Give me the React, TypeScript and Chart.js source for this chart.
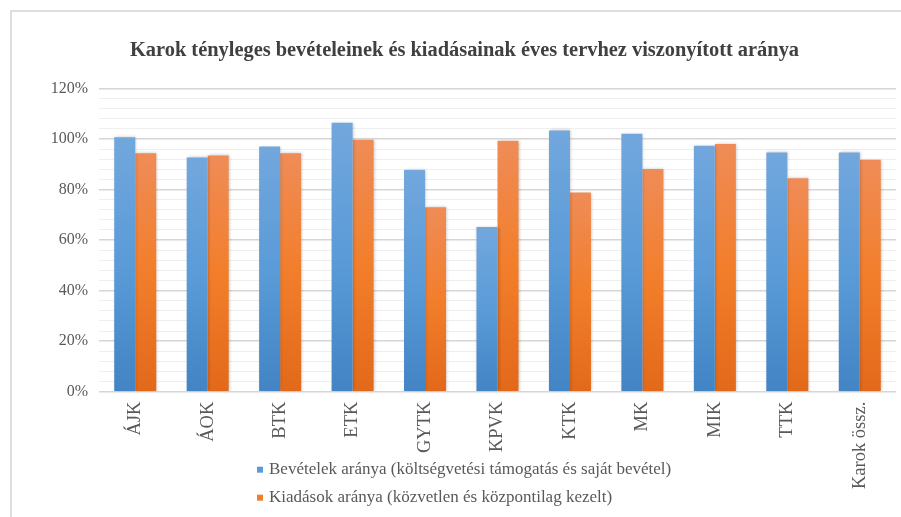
import React, { useEffect, useRef } from 'react';
import { Chart, registerables } from 'chart.js';

Chart.register(...registerables);

const categories = ['ÁJK', 'ÁOK', 'BTK', 'ETK', 'GYTK', 'KPVK', 'KTK', 'MK', 'MIK', 'TTK', 'Karok össz.'];
const revenueRatio = [100.7, 92.7, 97.0, 106.4, 87.7, 65.2, 103.4, 102.1, 97.3, 94.7, 94.7];
const expenseRatio = [94.4, 93.5, 94.4, 99.7, 73.0, 99.3, 78.8, 88.1, 98.0, 84.5, 91.8];
const seriesLabels = [
  'Bevételek aránya (költségvetési támogatás és saját bevétel)',
  'Kiadások aránya (közvetlen és központilag kezelt)',
];
const titleText = 'Karok tényleges bevételeinek és kiadásainak éves tervhez viszonyított aránya';
const yMin = 0;
const yMax = 120;
const yMinorStep = 4;
const yMajorStep = 20;

const FONT = '"Liberation Serif", "Times New Roman", serif';
const TEXT_COLOR = '#595959';
const BLUE = ['#72a7dd', '#5a9bd8', '#4284c4'];
const ORANGE = ['#ef8c57', '#f27e2b', '#e2691a'];

function barGradient(stops: string[]) {
  return (ctx: any) => {
    const chart = ctx.chart;
    const y = chart.scales && chart.scales.y;
    if (!y || ctx.type !== 'data') return stops[1];
    const y0 = y.getPixelForValue(0);
    const y1 = y.getPixelForValue(ctx.raw);
    if (!isFinite(y0) || !isFinite(y1) || y0 === y1) return stops[1];
    const g = chart.ctx.createLinearGradient(0, y1, 0, y0);
    g.addColorStop(0, stops[0]);
    g.addColorStop(0.5, stops[1]);
    g.addColorStop(1, stops[2]);
    return g;
  };
}

const framePlugin = {
  id: 'frame',
  beforeDraw(chart: any) {
    const ctx = chart.ctx;
    ctx.save();
    ctx.fillStyle = '#ffffff';
    ctx.fillRect(0, 0, chart.width, chart.height);
    ctx.strokeStyle = '#dedede';
    ctx.lineWidth = 2;
    ctx.beginPath();
    ctx.moveTo(11, chart.height + 10);
    ctx.lineTo(11, 11);
    ctx.lineTo(chart.width + 10, 11);
    ctx.stroke();
    ctx.restore();
  },
};

const shadowPlugin = {
  id: 'barShadow',
  beforeDatasetsDraw(chart: any) {
    const ctx = chart.ctx;
    ctx.save();
    ctx.shadowColor = 'rgba(0,0,0,0.22)';
    ctx.shadowBlur = 3;
    ctx.shadowOffsetX = 1;
    ctx.shadowOffsetY = 0;
  },
  afterDatasetsDraw(chart: any) {
    chart.ctx.restore();
  },
};

const titlePlugin = {
  id: 'offsetTitle',
  afterDraw(chart: any) {
    const ctx = chart.ctx;
    const area = chart.chartArea;
    ctx.save();
    ctx.font = `bold 20.4px ${FONT}`;
    ctx.fillStyle = '#404040';
    ctx.textAlign = 'center';
    ctx.textBaseline = 'middle';
    ctx.fillText(titleText, (area.left + area.right) / 2 - 33, area.top - 38);
    ctx.restore();
  },
};

const legendPlugin = {
  id: 'stackedLegend',
  afterDraw(chart: any) {
    const ctx = chart.ctx;
    const area = chart.chartArea;
    const x = area.left + 158;
    const colors = [BLUE[1], ORANGE[1]];
    ctx.save();
    ctx.font = `17px ${FONT}`;
    ctx.textBaseline = 'middle';
    chart.data.datasets.forEach((ds: any, i: number) => {
      const y = area.bottom + 78 + i * 28;
      ctx.fillStyle = colors[i];
      ctx.fillRect(x, y - 3, 6, 6);
      ctx.fillStyle = TEXT_COLOR;
      ctx.fillText(ds.label, x + 12, y);
    });
    ctx.restore();
  },
};

export default function App() {
  const ref = useRef<HTMLCanvasElement | null>(null);

  useEffect(() => {
    document.body.style.margin = '0';
    const canvas = ref.current;
    if (!canvas) return;
    const chart = new Chart(canvas, {
      type: 'bar',
      data: {
        labels: categories,
        datasets: [
          {
            label: seriesLabels[0],
            data: revenueRatio,
            backgroundColor: barGradient(BLUE),
            borderWidth: 0,
            categoryPercentage: 0.58,
            barPercentage: 1,
          },
          {
            label: seriesLabels[1],
            data: expenseRatio,
            backgroundColor: barGradient(ORANGE),
            borderWidth: 0,
            categoryPercentage: 0.58,
            barPercentage: 1,
          },
        ],
      },
      options: {
        responsive: false,
        animation: false,
        devicePixelRatio: 1,
        layout: { padding: { left: 0, right: 5, top: 88.5, bottom: 0 } },
        plugins: {
          legend: { display: false },
          tooltip: { enabled: false },
          title: { display: false },
        },
        scales: {
          x: {
            grid: { display: false, drawTicks: false },
            border: { display: false },
            ticks: {
              color: TEXT_COLOR,
              font: { family: FONT, size: 18.5 },
              minRotation: 90,
              maxRotation: 90,
              padding: 10,
              autoSkip: false,
            },
            afterFit(scale: any) {
              scale.height = 125.3;
            },
          },
          y: {
            min: yMin,
            max: yMax,
            grid: {
              drawTicks: false,
              color: (c: any) => (c.tick && c.tick.value % yMajorStep === 0 ? '#d6d6d6' : '#efefef'),
              lineWidth: (c: any) => (c.tick && c.tick.value % yMajorStep === 0 ? 1.6 : 1),
            },
            border: { display: false },
            ticks: {
              stepSize: yMinorStep,
              autoSkip: false,
              color: TEXT_COLOR,
              font: { family: FONT, size: 16 },
              padding: 11,
              callback: (v: any) => (Number(v) % yMajorStep === 0 ? `${v}%` : ''),
            },
            afterFit(scale: any) {
              scale.width = 99;
            },
          },
        },
      },
      plugins: [framePlugin, shadowPlugin, titlePlugin, legendPlugin],
    } as any);
    return () => chart.destroy();
  }, []);

  return (
    <div style={{ width: 901, height: 517 }}>
      <canvas ref={ref} width={901} height={517} style={{ display: 'block', width: 901, height: 517 }} />
    </div>
  );
}
